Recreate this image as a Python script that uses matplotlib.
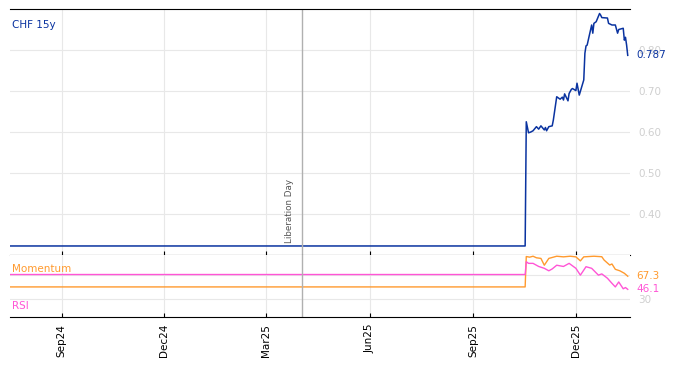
import pandas as pd
import matplotlib.pyplot as plt

# ---------- data ----------
series_name = 'CHF 15y'
start_date = '2024-07-17'
end_date = '2026-01-18'
event_date = '2025-04-02'
event_label = 'Liberation Day'

price_dates = ['2024-07-17', '2025-10-17', '2025-10-18', '2025-10-20', '2025-10-22',
               '2025-10-24', '2025-10-27', '2025-10-29', '2025-10-31', '2025-11-03',
               '2025-11-04', '2025-11-05', '2025-11-07', '2025-11-10', '2025-11-11',
               '2025-11-14', '2025-11-17', '2025-11-19', '2025-11-20', '2025-11-21',
               '2025-11-24', '2025-11-25', '2025-11-27', '2025-11-28', '2025-12-01',
               '2025-12-02', '2025-12-04', '2025-12-08', '2025-12-09', '2025-12-10',
               '2025-12-11', '2025-12-15', '2025-12-16', '2025-12-17', '2025-12-19',
               '2025-12-22', '2025-12-23', '2025-12-24', '2025-12-29', '2025-12-30',
               '2026-01-02', '2026-01-05', '2026-01-07', '2026-01-08', '2026-01-12',
               '2026-01-13', '2026-01-14', '2026-01-15', '2026-01-16']
price_vals = [0.322, 0.322, 0.625, 0.598, 0.600,
              0.603, 0.613, 0.607, 0.615, 0.605,
              0.611, 0.603, 0.613, 0.615, 0.629,
              0.686, 0.680, 0.685, 0.678, 0.693,
              0.676, 0.694, 0.704, 0.706, 0.701,
              0.719, 0.690, 0.727, 0.792, 0.810,
              0.812, 0.861, 0.841, 0.865, 0.869,
              0.889, 0.885, 0.879, 0.878, 0.865,
              0.861, 0.861, 0.841, 0.850, 0.853,
              0.824, 0.831, 0.812, 0.787]

mom_dates = ['2024-07-17', '2025-10-17', '2025-10-18', '2025-10-21', '2025-10-24',
             '2025-10-27', '2025-10-31', '2025-11-03', '2025-11-07', '2025-11-14',
             '2025-11-20', '2025-11-26', '2025-12-01', '2025-12-05', '2025-12-08',
             '2025-12-17', '2025-12-24', '2025-12-26', '2025-12-31', '2026-01-02',
             '2026-01-05', '2026-01-09', '2026-01-13', '2026-01-16']
mom_vals = [50, 50, 99, 98, 99.5,
            97, 96, 85, 96, 99.5,
            98.5, 99.5, 98.5, 92, 98.5,
            99.5, 98.7, 93.4, 85.3, 87,
            78.4, 76, 72, 67.3]

rsi_dates = ['2024-07-17', '2025-10-17', '2025-10-18', '2025-10-20', '2025-10-24',
             '2025-10-29', '2025-11-03', '2025-11-07', '2025-11-10', '2025-11-14',
             '2025-11-20', '2025-11-25', '2025-12-01', '2025-12-05', '2025-12-10',
             '2025-12-15', '2025-12-21', '2025-12-24', '2025-12-29', '2026-01-02',
             '2026-01-05', '2026-01-08', '2026-01-12', '2026-01-14', '2026-01-16']
rsi_vals = [70, 70, 90.6, 88, 88,
            83, 80, 76, 79, 85,
            83, 88, 80, 69, 82.6,
            80, 69, 71, 64, 55.8,
            50, 58, 47, 49, 46.1]

price_ticks = [0.40, 0.50, 0.60, 0.70, 0.80]
osc_grid = [30, 70]
osc_labels = ['30', '']
tick_dates = ['2024-09-01', '2024-12-01', '2025-03-01', '2025-06-01', '2025-09-01', '2025-12-01']
tick_labels = ['Sep24', 'Dec24', 'Mar25', 'Jun25', 'Sep25', 'Dec25']

# ---------- style ----------
c_price = '#0a33a0'
c_mom = '#ff9a2e'
c_rsi = '#ff55d6'
c_grid = '#e8e8e8'
c_lab = '#cfcfcf'

fig = plt.figure(figsize=(6.74, 3.66), dpi=100)
ax = fig.add_axes([0.0148, 0.3033, 0.9199, 0.6721])
ax2 = fig.add_axes([0.0148, 0.1339, 0.9199, 0.1694], sharex=ax)

pd_price = pd.to_datetime(price_dates)
pd_mom = pd.to_datetime(mom_dates)
pd_rsi = pd.to_datetime(rsi_dates)
xticks = pd.to_datetime(tick_dates)
ev = pd.Timestamp(event_date)

# main panel
ax.plot(pd_price, price_vals, color=c_price, lw=1.1)
ax.set_ylim(0.30, 0.90)
ax.set_xlim(pd.Timestamp(start_date), pd.Timestamp(end_date))
ax.set_yticks(price_ticks)
ax.set_yticklabels([f'{v:.2f}' for v in price_ticks])
ax.yaxis.tick_right()
ax.tick_params(axis='y', length=0, labelsize=7.5, labelcolor=c_lab, pad=6)
ax.set_xticks(xticks)
ax.tick_params(axis='x', direction='in', length=3, labelbottom=False)
ax.grid(True, color=c_grid, lw=0.8)
for s in ['left', 'right']:
    ax.spines[s].set_visible(False)
ax.axvline(ev, color='#b0b0b0', lw=1)
ax.text(ev - pd.Timedelta(days=11), 0.33, event_label, rotation=90, fontsize=6.3,
        color='#555555', ha='center', va='bottom')
ax.text(0.004, 0.935, series_name, transform=ax.transAxes, color=c_price, fontsize=7.5,
        ha='left', va='center')
ax.text(1.01, price_vals[-1], f'{price_vals[-1]:.3f}', transform=ax.get_yaxis_transform(),
        color=c_price, fontsize=7.5, ha='left', va='center')

# oscillator panel
ax2.plot(pd_mom, mom_vals, color=c_mom, lw=1.0)
ax2.plot(pd_rsi, rsi_vals, color=c_rsi, lw=1.0)
ax2.set_ylim(1.5, 101.5)
ax2.set_yticks(osc_grid)
ax2.set_yticklabels(osc_labels)
ax2.yaxis.tick_right()
ax2.tick_params(axis='y', length=0, labelsize=7.5, labelcolor=c_lab, pad=6)
ax2.set_xticks(xticks)
ax2.set_xticklabels(tick_labels, rotation=90)
ax2.tick_params(axis='x', direction='in', length=3, labelsize=7.5, pad=5)
ax2.grid(True, color=c_grid, lw=0.8)
for s in ['left', 'right', 'top']:
    ax2.spines[s].set_visible(False)
ax2.axvline(ev, color='#b0b0b0', lw=1)
ax2.text(0.004, 0.78, 'Momentum', transform=ax2.transAxes, color=c_mom, fontsize=7.5,
         ha='left', va='center')
ax2.text(0.004, 0.17, 'RSI', transform=ax2.transAxes, color=c_rsi, fontsize=7.5,
         ha='left', va='center')
ax2.text(1.01, mom_vals[-1], f'{mom_vals[-1]:.1f}', transform=ax2.get_yaxis_transform(),
         color=c_mom, fontsize=7.5, ha='left', va='center')
ax2.text(1.01, rsi_vals[-1], f'{rsi_vals[-1]:.1f}', transform=ax2.get_yaxis_transform(),
         color=c_rsi, fontsize=7.5, ha='left', va='center')

fig.savefig('out.png', dpi=100)
